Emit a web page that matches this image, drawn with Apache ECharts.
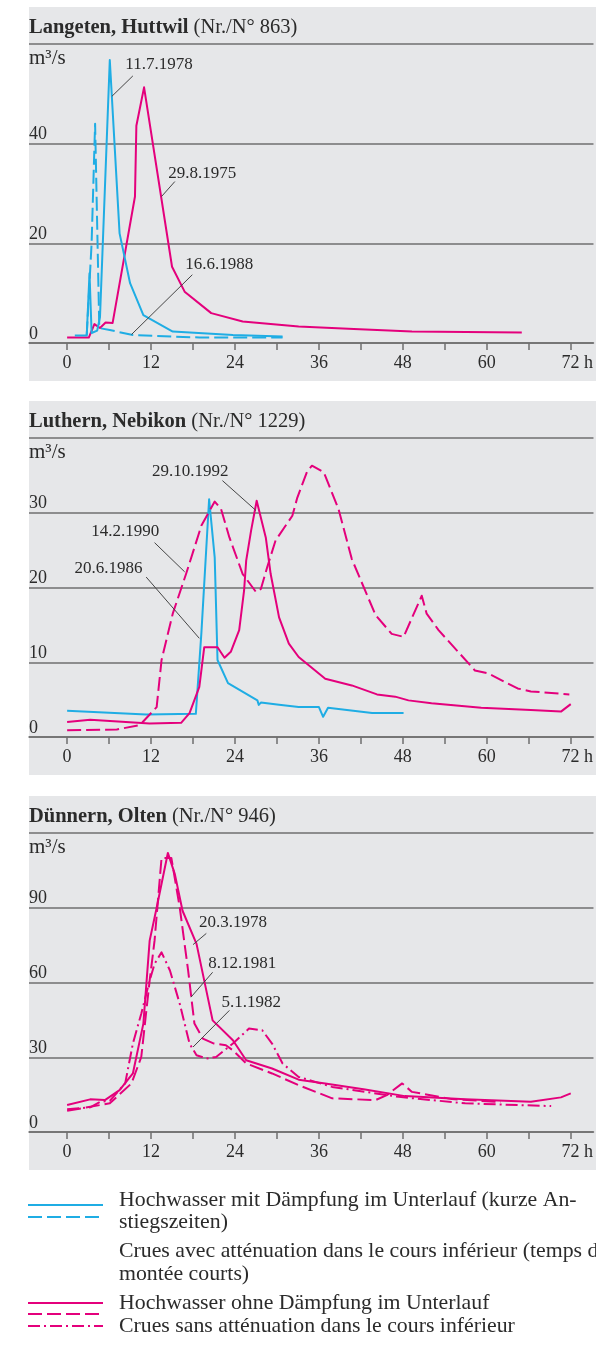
<!DOCTYPE html>
<html>
<head>
<meta charset="utf-8">
<script src="https://cdn.jsdelivr.net/npm/echarts@6/dist/echarts.min.js"></script>
<style>
html,body{margin:0;padding:0;background:#fff}
#chart{width:596px;height:1353px}
</style>
</head>
<body>
<div id="chart"></div>
<script>
// Flood hydrographs: [hour since start, discharge m³/s]

// Langeten, Huttwil
const langeten1978 = [[1.1,1.5],[2.8,1.5],[3.2,14],[3.5,2],[4.3,2.5],[4.7,5.2],[6.1,56.8],[7.5,22],[9.0,12],[10.9,5.6],[15.1,2.3],[23.7,1.6],[30.8,1.3]];
const langeten1975 = [[0,1.1],[3.1,1.1],[3.9,3.8],[4.7,3],[5.5,4.1],[6.5,4],[9.7,29.4],[9.9,43.6],[11.0,51.3],[15.0,15.3],[16.8,10.3],[20.6,6.0],[25.1,4.3],[33.1,3.3],[41,2.8],[49.3,2.3],[57,2.2],[65,2.1]];
const langeten1988 = [[2.8,1.5],[3.5,20],[4.0,44],[4.6,3],[6.1,2.6],[9.4,1.6],[18.9,1.1],[30.8,1.1]];

// Luthern, Nebikon
const luthern1986 = [[0,3.5],[11.3,3.0],[18.4,3.1],[19.2,14],[20.3,31.8],[21.1,24],[21.5,10.3],[23.0,7.2],[27.2,4.9],[27.4,4.3],[27.7,4.6],[30.3,4.3],[33.1,4.0],[36,4.0],[36.6,2.7],[37.3,3.9],[43.6,3.2],[48.1,3.2]];
const luthern1992 = [[0,2.0],[3.3,2.3],[11.8,1.8],[16.3,1.9],[17.5,3.2],[18.9,6.7],[19.6,12],[21.5,12],[22.5,10.6],[23.4,11.4],[24.6,14.3],[25.3,19.6],[25.6,23.6],[26.3,27.6],[27.1,31.6],[28.4,26.7],[29.1,21.8],[30.3,16.0],[31.7,12.5],[33.1,10.7],[36.9,7.8],[40.7,6.9],[44.3,5.7],[46.9,5.4],[48.8,4.9],[52.1,4.5],[59.2,3.9],[66.3,3.6],[70.6,3.4],[72,4.4]];
const luthern1990 = [[0,0.9],[7.1,1.0],[10.4,1.6],[12.8,4.0],[13.5,10.3],[15.1,16.5],[17.0,21.8],[19.2,28.3],[21.1,31.5],[22.0,30.5],[23.2,26.7],[25.1,21.8],[27.0,19.4],[27.7,19.8],[28.6,22.7],[29.8,26.3],[32.2,29.6],[32.9,32.0],[34.3,35.5],[35.0,36.3],[36.7,35.4],[38.8,30.5],[40.7,23.8],[44.1,16.3],[46.4,13.8],[48.1,13.4],[50.7,18.9],[51.4,16.5],[53.1,14.3],[58.3,8.9],[60.2,8.5],[64.4,6.5],[66.3,6.1],[71.8,5.7]];

// Dünnern, Olten
const duennern1978 = [[0,10.8],[3.3,13.1],[5.4,12.8],[7.5,16.8],[9.4,23.5],[10.9,43.5],[11.8,76.8],[12.8,90],[14.4,112],[15.4,103.5],[16.5,88.8],[18.5,75.5],[20.8,44.8],[23.7,36.8],[25.6,28.8],[29.3,25.5],[33.1,21.0],[36.9,19.5],[42.6,17.1],[48.3,14.4],[56.9,13.1],[66.3,12.1],[70.6,13.9],[72.0,15.5]];
const duennern1981 = [[0,8.5],[6.1,11.5],[9.2,19.5],[10.6,30.1],[11.8,60.8],[12.5,76.8],[13.5,110],[14.9,110],[16.1,90.1],[17.3,64.8],[18.2,43.5],[19.4,37.5],[21.0,35.5],[22.7,34.8],[23.7,32.8],[25.6,27.5],[29.3,23.5],[33.1,18.8],[37.9,13.5],[44.1,12.8],[45.7,14.8],[47.9,19.5],[49.3,16.1],[55,13.2],[62,12.0]];
const duennern1982 = [[0,9.1],[3.3,9.9],[4.7,12.1],[6.1,12.5],[8.3,19.5],[9.4,35.5],[10.6,47.5],[11.8,60.8],[12.5,67.5],[13.5,72.1],[14.7,64.8],[16.1,51.5],[17.5,35.5],[18.5,30.8],[19.9,29.5],[21.3,30.1],[23.7,35.5],[26.0,41.5],[27.9,40.8],[29.3,35.5],[30.8,27.5],[33.1,22.1],[37.9,18.1],[47.4,14.1],[56.9,11.5],[69.2,10.4]];

// Axis ticks
const hourTicks = [0,6,12,18,24,30,36,42,48,54,60,66,72];
const hourLabels = [0,12,24,36,48,60,72];
const langetenTicks = [0,20,40,60];
const luthernTicks = [0,10,20,30,40];
const duennernTicks = [0,30,60,90,120];

const FONT = "'Liberation Serif','Times New Roman',serif";
const BLUE = '#1fade4';
const PINK = '#e4007c';
const INK = '#2b2b2b';
const RULE = '#6f6f6f';
const DASH = [14, 5];
const DASHDOT = [12, 4, 2, 4];

const PX_LEFT = 29, GRID_H = 299;

const panels = [
  {
    river: 'Langeten, Huttwil', no: '863', top: 44, ticks: langetenTicks,
    lines: [
      { data: langeten1975, color: PINK, type: 'solid',
        note: { text: '29.8.1975', at: [14.4, 34.1], from: [15.4, 32.4], to: [13.5, 29.4] } },
      { data: langeten1978, color: BLUE, type: 'solid',
        note: { text: '11.7.1978', at: [8.25, 55.8], from: [9.4, 53.6], to: [6.4, 49.5] } },
      { data: langeten1988, color: BLUE, type: DASH,
        note: { text: '16.6.1988', at: [16.8, 15.7], from: [17.9, 13.7], to: [9.2, 1.7] } }
    ]
  },
  {
    river: 'Luthern, Nebikon', no: '1229', top: 438, ticks: luthernTicks,
    lines: [
      { data: luthern1986, color: BLUE, type: 'solid',
        note: { text: '20.6.1986', at: [1.0, 22.5], from: [11.3, 21.4], to: [18.9, 13.2] } },
      { data: luthern1992, color: PINK, type: 'solid',
        note: { text: '29.10.1992', at: [12.05, 35.5], from: [22.2, 34.3], to: [27.0, 30.3] } },
      { data: luthern1990, color: PINK, type: DASH,
        note: { text: '14.2.1990', at: [3.37, 27.5], from: [12.5, 26.0], to: [16.8, 22.1] } }
    ]
  },
  {
    river: 'Dünnern, Olten', no: '946', top: 833, ticks: duennernTicks,
    lines: [
      { data: duennern1978, color: PINK, type: 'solid',
        note: { text: '20.3.1978', at: [18.8, 84.1], from: [19.9, 79.7], to: [18.0, 75.2] } },
      { data: duennern1981, color: PINK, type: DASH,
        note: { text: '8.12.1981', at: [20.1, 67.7], from: [20.8, 64.1], to: [17.7, 54.1] } },
      { data: duennern1982, color: PINK, type: DASHDOT,
        note: { text: '5.1.1982', at: [22.0, 52.1], from: [23.2, 48.8], to: [18.0, 34.1] } }
    ]
  }
];

const grid = [], xAxis = [], yAxis = [], series = [], title = [], graphic = [];

panels.forEach((p, i) => {
  const yMax = p.ticks[p.ticks.length - 1];
  grid.push({ left: PX_LEFT, right: 0, top: p.top, height: GRID_H });

  // panel background
  graphic.push({
    type: 'rect', z: -10, silent: true,
    shape: { x: PX_LEFT, y: p.top - 37, width: 596 - PX_LEFT, height: GRID_H + 75 },
    style: { fill: '#e6e7e9' }
  });
  // unit label
  graphic.push({
    type: 'text', left: PX_LEFT, top: p.top + 4, silent: true,
    style: { text: 'm³/s', font: `21px ${FONT}`, fill: INK }
  });

  title.push({
    left: PX_LEFT, top: p.top - 27, padding: 0,
    text: `{b|${p.river}} (Nr./N° ${p.no})`,
    textStyle: {
      fontFamily: FONT, fontSize: 20.5, fontWeight: 'normal', color: INK,
      rich: { b: { fontFamily: FONT, fontSize: 20.5, fontWeight: 'bold', color: INK } }
    }
  });

  xAxis.push({
    type: 'value', gridIndex: i, min: -5.45, max: 75.25,
    axisLine: { show: true, onZero: false, lineStyle: { color: RULE, width: 1.5 } },
    axisTick: { show: true, customValues: hourTicks, length: 7, lineStyle: { color: RULE, width: 1.5 } },
    axisLabel: {
      customValues: hourLabels, margin: 11,
      fontFamily: FONT, fontSize: 18, color: INK,
      formatter: v => v === 72 ? '{s|}72 h' : String(v),
      rich: { s: { width: 13 } }
    },
    splitLine: { show: false }
  });

  yAxis.push({
    type: 'value', gridIndex: i, min: 0, max: yMax, interval: p.ticks[1] - p.ticks[0],
    axisLine: { show: false }, axisTick: { show: false },
    axisLabel: {
      inside: true, margin: 0, verticalAlign: 'bottom',
      fontFamily: FONT, fontSize: 18, color: INK,
      formatter: v => v === yMax ? '' : String(v)
    },
    splitLine: { show: true, lineStyle: { color: RULE, width: 1.5 } }
  });

  p.lines.forEach(l => {
    const n = l.note;
    series.push({
      type: 'line', xAxisIndex: i, yAxisIndex: i, data: l.data,
      showSymbol: false, symbol: 'none', silent: true, z: 3,
      lineStyle: { color: l.color, width: 2, type: l.type, join: 'round' },
      markLine: {
        silent: true, symbol: ['none', 'none'], animation: false,
        lineStyle: { color: '#454545', width: 1, type: 'solid' },
        label: { show: false },
        data: [[{ coord: n.from }, { coord: n.to }]]
      },
      markPoint: {
        silent: true, symbol: 'rect', symbolSize: 1, animation: false,
        itemStyle: { color: 'rgba(0,0,0,0)' },
        label: {
          show: true, position: 'right', distance: 0,
          formatter: q => q.name,
          fontFamily: FONT, fontSize: 17, color: INK
        },
        data: [{ name: n.text, coord: n.at }]
      }
    });
  });
});

// key to line styles
const legendRows = [
  { y: 1205, color: BLUE, type: 'solid' },
  { y: 1217, color: BLUE, type: DASH },
  { y: 1303, color: PINK, type: 'solid' },
  { y: 1314, color: PINK, type: DASH },
  { y: 1326, color: PINK, type: DASHDOT }
];
legendRows.forEach(r => graphic.push({
  type: 'line', silent: true,
  shape: { x1: 28, y1: r.y, x2: 103, y2: r.y },
  style: { stroke: r.color, lineWidth: 2, lineDash: r.type === 'solid' ? null : r.type }
}));
const legendText = [
  { y: 1200, text: 'Hochwasser mit Dämpfung im Unterlauf (kurze An-' },
  { y: 1222, text: 'stiegszeiten)' },
  { y: 1251, text: 'Crues avec atténuation dans le cours inférieur (temps de' },
  { y: 1274, text: 'montée courts)' },
  { y: 1303, text: 'Hochwasser ohne Dämpfung im Unterlauf' },
  { y: 1326, text: 'Crues sans atténuation dans le cours inférieur' }
];
legendText.forEach(t => graphic.push({
  type: 'text', silent: true, x: 119, y: t.y,
  style: { text: t.text, font: `21.8px ${FONT}`, fill: INK, verticalAlign: 'middle', textAlign: 'left' }
}));

const chart = echarts.init(document.getElementById('chart'), null, { renderer: 'canvas' });
chart.setOption({
  animation: false,
  backgroundColor: '#ffffff',
  title, grid, xAxis, yAxis, series, graphic
});
</script>
</body>
</html>
